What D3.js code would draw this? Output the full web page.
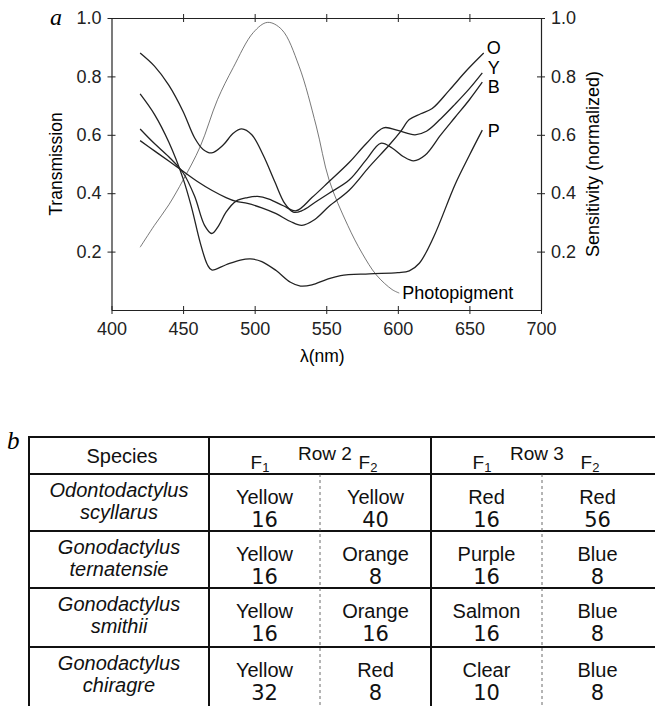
<!DOCTYPE html>
<html>
<head>
<meta charset="utf-8">
<script src="https://cdnjs.cloudflare.com/ajax/libs/d3/7.8.5/d3.min.js"></script>
<style>
  body { margin: 0; background: #fff; }
  svg { display: block; font-family: 'Liberation Sans', Arial, sans-serif; }
  .tick text { font-size: 18px; fill: #222; }
  .tick line, .domain { stroke: #222; }
  .curve { fill: none; stroke: #222; stroke-width: 1.3; }
  .pigment { fill: none; stroke: #555; stroke-width: 0.8; }
  .cell { font-size: 20px; fill: #111; text-anchor: middle; }
</style>
</head>
<body>
<svg width="655" height="706"></svg>
<script>
// panel a: transmission spectra, [wavelength nm, transmission]
const curveO = [[420,0.58],[430,0.545],[440,0.51],[450,0.475],[460,0.44],[470,0.41],[480,0.385],[487,0.372],[495,0.365],[505,0.35],[515,0.33],[525,0.303],[533,0.29],[542,0.31],[552,0.355],[566,0.41],[580,0.49],[594,0.565],[602,0.612],[608,0.652],[616,0.672],[624,0.69],[636,0.753],[648,0.82],[660,0.88]];
const curveY = [[420,0.62],[430,0.57],[440,0.525],[450,0.47],[458,0.39],[465,0.29],[470,0.262],[475,0.29],[480,0.335],[487,0.373],[495,0.385],[502,0.389],[510,0.38],[520,0.357],[529,0.34],[540,0.385],[552,0.44],[566,0.505],[578,0.57],[590,0.624],[600,0.615],[612,0.6],[620,0.612],[630,0.655],[640,0.705],[650,0.758],[659,0.812]];
const curveB = [[420,0.88],[430,0.835],[440,0.77],[450,0.68],[458,0.59],[464,0.55],[470,0.538],[478,0.565],[485,0.605],[491,0.62],[498,0.6],[506,0.53],[514,0.44],[521,0.365],[527,0.335],[533,0.34],[542,0.368],[552,0.4],[566,0.445],[578,0.515],[588,0.571],[596,0.555],[604,0.525],[611,0.511],[619,0.53],[630,0.6],[640,0.66],[650,0.72],[659,0.78]];
const curveP = [[420,0.74],[430,0.67],[440,0.575],[450,0.45],[456,0.35],[462,0.23],[467,0.155],[470,0.137],[480,0.155],[490,0.171],[497,0.175],[505,0.166],[515,0.135],[525,0.095],[532,0.082],[540,0.086],[550,0.104],[560,0.118],[580,0.124],[600,0.128],[608,0.134],[615,0.16],[625,0.25],[640,0.43],[650,0.53],[659,0.616]];
const pigment = [[420,0.215],[430,0.29],[440,0.36],[450,0.445],[462,0.56],[474,0.72],[485,0.83],[499,0.95],[509,0.985],[519,0.96],[531,0.835],[543,0.63],[552,0.445],[565,0.29],[575,0.195],[585,0.12],[596,0.07],[601,0.058]];
const curveLabels = ['O', 'Y', 'B', 'P'];
const labelValues = [0.9, 0.83, 0.765, 0.615];
const xTicks = [400, 450, 500, 550, 600, 650, 700];
const yTicks = [0.2, 0.4, 0.6, 0.8, 1.0];

// panel b: filter table
const speciesGenus = ['Odontodactylus', 'Gonodactylus', 'Gonodactylus', 'Gonodactylus'];
const speciesName = ['scyllarus', 'ternatensie', 'smithii', 'chiragre'];
const row2F1 = ['Yellow', 'Yellow', 'Yellow', 'Yellow'];
const row2F1n = ['16', '16', '16', '32'];
const row2F2 = ['Yellow', 'Orange', 'Orange', 'Red'];
const row2F2n = ['40', '8', '16', '8'];
const row3F1 = ['Red', 'Purple', 'Salmon', 'Clear'];
const row3F1n = ['16', '16', '16', '10'];
const row3F2 = ['Red', 'Blue', 'Blue', 'Blue'];
const row3F2n = ['56', '8', '8', '8'];

function whenLoaded(){
    const svg = d3.select('svg');

    // ---- panel a ----
    const margin = {left: 111.5, top: 18, right: 541, bottom: 310};
    const xScale = d3.scaleLinear().domain([400, 700]).range([margin.left, margin.right]);
    const yScale = d3.scaleLinear().domain([0, 1]).range([margin.bottom, margin.top]);

    const bottomAxis = d3.axisBottom(xScale).tickValues(xTicks).tickFormat(d3.format('d'))
        .tickSizeInner(4).tickSizeOuter(0).tickPadding(8);
    const gx = svg.append('g').attr('transform', `translate(0,${margin.bottom})`).call(bottomAxis);
    gx.selectAll('.tick line').attr('y1', -4);

    const topAxis = d3.axisTop(xScale).tickValues(xTicks.slice(1, -1)).tickFormat('')
        .tickSizeInner(4).tickSizeOuter(0);
    const gt = svg.append('g').attr('transform', `translate(0,${margin.top})`).call(topAxis);
    gt.selectAll('.tick line').attr('y1', 4);

    const leftAxis = d3.axisLeft(yScale).tickValues(yTicks).tickFormat(d3.format('.1f'))
        .tickSizeInner(4).tickSizeOuter(0).tickPadding(6);
    const gl = svg.append('g').attr('transform', `translate(${margin.left},0)`).call(leftAxis);
    gl.selectAll('.tick line').attr('x1', 4);

    const rightAxis = d3.axisRight(yScale).tickValues(yTicks).tickFormat(d3.format('.1f'))
        .tickSizeInner(4).tickSizeOuter(0).tickPadding(6);
    const gr = svg.append('g').attr('transform', `translate(${margin.right},0)`).call(rightAxis);
    gr.selectAll('.tick line').attr('x1', -4);

    svg.selectAll('.domain').attr('stroke-width', 1.2);

    svg.append('text')
        .attr('transform', `translate(62,${(margin.top + margin.bottom) / 2}) rotate(-90)`)
        .attr('text-anchor', 'middle')
        .style('font-size', '17.5px')
        .text('Transmission');

    svg.append('text')
        .attr('transform', `translate(599,${(margin.top + margin.bottom) / 2}) rotate(-90)`)
        .attr('text-anchor', 'middle')
        .style('font-size', '18px')
        .text('Sensitivity (normalized)');

    svg.append('text')
        .attr('x', xScale(550) - 4).attr('y', 362)
        .attr('text-anchor', 'middle')
        .style('font-size', '17.5px')
        .text('λ(nm)');

    svg.append('text')
        .attr('x', 50).attr('y', 25)
        .style('font-family', "'Liberation Serif', serif")
        .style('font-style', 'italic')
        .style('font-size', '24px')
        .text('a');

    const line = d3.line()
        .x(d => xScale(d[0]))
        .y(d => yScale(d[1]))
        .curve(d3.curveCatmullRom.alpha(0.5));

    svg.append('path').attr('class', 'pigment').attr('d', line(pigment));
    [curveO, curveY, curveB, curveP].forEach(c => {
        svg.append('path').attr('class', 'curve').attr('d', line(c));
    });

    svg.selectAll('.curve-label').data(curveLabels)
        .enter().append('text')
        .attr('x', xScale(667))
        .attr('y', (d, i) => yScale(labelValues[i]))
        .attr('dy', '0.35em')
        .attr('text-anchor', 'middle')
        .style('font-size', '18px')
        .text(d => d);

    svg.append('text')
        .attr('x', xScale(603)).attr('y', yScale(0.058))
        .attr('dy', '0.35em')
        .style('font-size', '18px')
        .text('Photopigment');

    // ---- panel b ----
    const colEdges = [29, 209, 320, 431, 542, 653];
    const rowEdges = [437, 474, 531, 588, 647, 706];
    const colCentre = i => (colEdges[i] + colEdges[i + 1]) / 2;

    svg.append('text')
        .attr('x', 7).attr('y', 449)
        .style('font-family', "'Liberation Serif', serif")
        .style('font-style', 'italic')
        .style('font-size', '25px')
        .text('b');

    const t = svg.append('g');
    // horizontal rules
    t.selectAll('.hrule').data(rowEdges.slice(0, -1))
        .enter().append('line')
        .attr('x1', colEdges[0] - 1).attr('x2', 655)
        .attr('y1', d => d).attr('y2', d => d)
        .attr('stroke', '#111').attr('stroke-width', 2);
    // solid verticals
    t.selectAll('.vrule').data([colEdges[0], colEdges[1], colEdges[3]])
        .enter().append('line')
        .attr('x1', d => d).attr('x2', d => d)
        .attr('y1', rowEdges[0]).attr('y2', 706)
        .attr('stroke', '#111').attr('stroke-width', 2);
    // dashed F1/F2 dividers
    t.selectAll('.drule').data([colEdges[2], colEdges[4]])
        .enter().append('line')
        .attr('x1', d => d).attr('x2', d => d)
        .attr('y1', rowEdges[1]).attr('y2', 706)
        .attr('stroke', '#444').attr('stroke-width', 0.8)
        .attr('stroke-dasharray', '3,3');

    // header
    t.append('text').attr('class', 'cell').attr('x', colCentre(0) + 3).attr('y', 463).text('Species');
    [[1, 'Row 2', 325], [3, 'Row 3', 537]].forEach(([c, label, lx]) => {
        t.append('text').attr('class', 'cell').attr('x', lx).attr('y', 460).style('font-size', '19px').text(label);
        [[colEdges[c] + 51, '1'], [colEdges[c + 1] + 48, '2']].forEach(([x, sub]) => {
            const f = t.append('text').attr('class', 'cell').attr('x', x).attr('y', 469).style('font-size', '19px');
            f.append('tspan').text('F');
            f.append('tspan').attr('dy', 3).style('font-size', '13px').text(sub);
        });
    });

    // body rows
    const columns = [[row2F1, row2F1n], [row2F2, row2F2n], [row3F1, row3F1n], [row3F2, row3F2n]];
    speciesGenus.forEach((g, r) => {
        const top = rowEdges[r + 1];
        t.append('text').attr('class', 'cell').attr('x', colCentre(0)).attr('y', top + 23)
            .style('font-style', 'italic').text(g);
        t.append('text').attr('class', 'cell').attr('x', colCentre(0)).attr('y', top + 45)
            .style('font-style', 'italic').text(speciesName[r]);
        columns.forEach(([names, counts], c) => {
            t.append('text').attr('class', 'cell').attr('x', colCentre(c + 1)).attr('y', top + 30).text(names[r]);
            t.append('text').attr('class', 'cell').attr('x', colCentre(c + 1)).attr('y', top + 53)
                .style('font-family', "'DejaVu Sans', sans-serif").style('font-size', '21px').text(counts[r]);
        });
    });
}

window.onload = whenLoaded;
</script>
</body>
</html>
